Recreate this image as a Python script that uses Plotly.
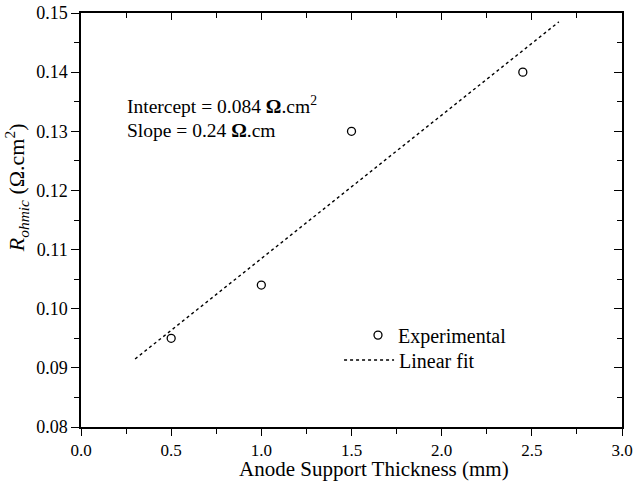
import plotly.graph_objects as go

exp_x = [0.5, 1.0, 1.5, 2.45]
exp_y = [0.095, 0.104, 0.130, 0.140]
fit_x = [0.30, 2.65]
fit_y = [0.0915, 0.1485]
x_range = [0.0, 3.0]
y_range = [0.08, 0.15]
x_ticks = [0.0, 0.5, 1.0, 1.5, 2.0, 2.5, 3.0]
y_ticks = [0.08, 0.09, 0.10, 0.11, 0.12, 0.13, 0.14, 0.15]
ann_lines = ["Intercept = 0.084 <b>Ω</b>.cm<sup>2</sup>", "Slope = 0.24 <b>Ω</b>.cm"]
ann_x = 0.245
ann_y = [0.1345, 0.1302]
x_title = "Anode Support Thickness (mm)"
y_title = "<i>R<sub>ohmic</sub></i> (Ω.cm<sup>2</sup>)"

FONT = "Liberation Serif"

fig = go.Figure()
fig.add_trace(go.Scatter(x=exp_x, y=exp_y, mode="markers", name="Experimental",
                         marker=dict(symbol="circle-open", size=8, color="black",
                                     line=dict(width=1.3, color="black")),
                         legend="legend"))
fig.add_trace(go.Scatter(x=fit_x, y=fit_y, mode="lines", name="Linear fit",
                         line=dict(color="black", width=1.4, dash="dot"),
                         legend="legend2"))
# invisible trace to anchor mirror axes
fig.add_trace(go.Scatter(x=x_range, y=y_range, mode="markers", xaxis="x2", yaxis="y2",
                         marker=dict(opacity=0), showlegend=False, hoverinfo="skip"))

axis_common = dict(showgrid=False, zeroline=False, showline=True, linecolor="black",
                   linewidth=1.5, tickcolor="black", tickwidth=1.3, automargin=False)

leg_common = dict(xanchor="left", yanchor="middle", bgcolor="rgba(0,0,0,0)",
                  font=dict(family=FONT, size=20, color="black"))

fig.update_layout(
    width=633, height=485,
    margin=dict(l=81, r=11, t=13, b=58, autoexpand=False),
    paper_bgcolor="white", plot_bgcolor="white",
    font=dict(family=FONT, color="black"),
    xaxis=dict(range=x_range, tickvals=x_ticks, ticktext=[f"{v:.1f}" for v in x_ticks],
               ticks="outside", ticklen=7, ticklabeloverflow="allow", ticklabelstandoff=0,
               tickfont=dict(family=FONT, size=17, color="black"),
               minor=dict(dtick=0.25, tick0=0, ticks="outside", ticklen=5, tickcolor="black", tickwidth=1.2),
               **axis_common),
    yaxis=dict(range=y_range, tickvals=y_ticks, ticktext=[f"{v:.2f}" for v in y_ticks],
               ticks="outside", ticklen=8, ticklabeloverflow="allow",
               tickfont=dict(family=FONT, size=18, color="black"),
               minor=dict(dtick=0.005, tick0=0.08, ticks="outside", ticklen=5, tickcolor="black", tickwidth=1.2),
               **axis_common),
    xaxis2=dict(range=x_range, overlaying="x", side="top", anchor="y2", tickvals=x_ticks,
                showticklabels=False, ticks="inside", ticklen=7,
                minor=dict(dtick=0.25, tick0=0, ticks="inside", ticklen=5, tickcolor="black", tickwidth=1.2),
                **axis_common),
    yaxis2=dict(range=y_range, overlaying="y", side="right", anchor="x2", tickvals=y_ticks,
                showticklabels=False, ticks="inside", ticklen=8,
                minor=dict(dtick=0.005, tick0=0.08, ticks="inside", ticklen=5, tickcolor="black", tickwidth=1.2),
                **axis_common),
    legend=dict(x=0.512, y=0.222, **leg_common),
    legend2=dict(x=0.477, y=0.162, itemwidth=50, **leg_common),
    showlegend=True,
)

for txt, yy in zip(ann_lines, ann_y):
    fig.add_annotation(x=ann_x, y=yy, xref="x", yref="y", text=txt, showarrow=False,
                       xanchor="left", yanchor="middle",
                       font=dict(family=FONT, size=19.5, color="black"))

fig.add_annotation(x=0.541, y=-0.102, xref="paper", yref="paper", text=x_title,
                   showarrow=False, xanchor="center", yanchor="middle",
                   font=dict(family=FONT, size=21, color="black"))
fig.add_annotation(x=-0.120, y=0.577, xref="paper", yref="paper", text=y_title,
                   showarrow=False, xanchor="center", yanchor="middle", textangle=-90,
                   font=dict(family=FONT, size=22, color="black"))

fig.write_html("out.html")
